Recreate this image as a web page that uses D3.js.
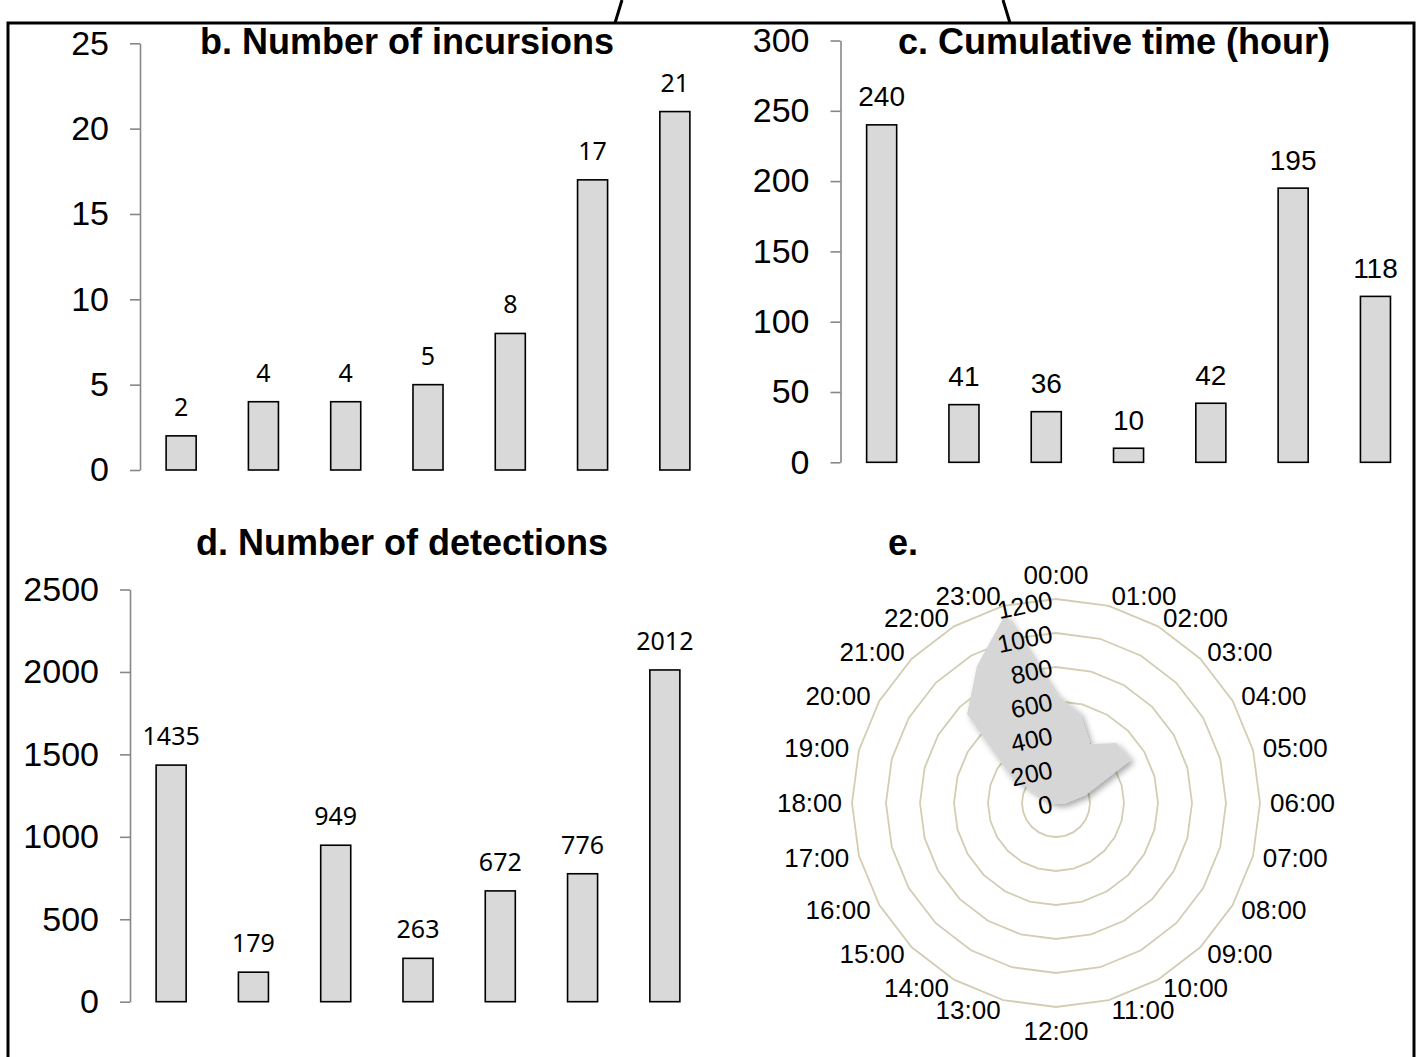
<!DOCTYPE html>
<html>
<head>
<meta charset="utf-8">
<script src="https://cdn.jsdelivr.net/npm/d3@7"></script>
<style>
  body { margin: 0; background: #fff; }
  svg { display: block; }
  text { font-family: "Liberation Sans", Arial, sans-serif; fill: #000; }
  .axis path, .axis line { stroke: #878787; stroke-width: 1.6; }
  .bar { fill: #d9d9d9; stroke: #000; stroke-width: 1.6; }
  .title { font-weight: bold; font-size: 36px; }
  .ring { fill: none; stroke: #d3cdb3; stroke-width: 1.8; }
</style>
</head>
<body>
<script>
// seven groups, same order in panels b, c and d
var groups = [1, 2, 3, 4, 5, 6, 7];
var incursions = [2, 4, 4, 5, 8, 17, 21];
var cumTime = [240, 41, 36, 10, 42, 195, 118];
var detections = [1435, 179, 949, 263, 672, 776, 2012];

// panel e: detections per hour of day
var hours = ["00:00", "01:00", "02:00", "03:00", "04:00", "05:00", "06:00", "07:00",
             "08:00", "09:00", "10:00", "11:00", "12:00", "13:00", "14:00", "15:00",
             "16:00", "17:00", "18:00", "19:00", "20:00", "21:00", "22:00", "23:00"];
var hourly = [640, 545, 400, 500, 510, 180, 60, 20, 10, 5, 5, 5,
              5, 5, 5, 5, 5, 10, 20, 50, 300, 740, 930, 1150];
var radarTicks = [0, 200, 400, 600, 800, 1000, 1200];

var svg = d3.select("body").append("svg")
    .attr("width", 1418)
    .attr("height", 1057);

var defs = svg.append("defs");
defs.append("filter")
    .attr("id", "shadow")
    .attr("x", "-20%").attr("y", "-20%")
    .attr("width", "140%").attr("height", "140%")
  .append("feDropShadow")
    .attr("dx", 3).attr("dy", 3)
    .attr("stdDeviation", 3)
    .attr("flood-color", "#000")
    .attr("flood-opacity", 0.35);

// frame
svg.append("rect")
    .attr("x", 8).attr("y", 23)
    .attr("width", 1406).attr("height", 1060)
    .attr("fill", "none")
    .attr("stroke", "#000")
    .attr("stroke-width", 3);
svg.append("path")
    .attr("d", "M615,23L622,0M1003,0L1010,23")
    .attr("fill", "none")
    .attr("stroke", "#000")
    .attr("stroke-width", 3);

function barPanel(o) {
    var x = d3.scaleBand()
            .domain(groups)
            .range([o.left, o.right])
            .paddingInner(0.635)
            .paddingOuter(0.3175);
    var y = d3.scaleLinear()
            .domain([0, o.max])
            .range([o.bottom, o.top]);

    var axis = d3.axisLeft(y)
            .tickValues(d3.range(0, o.max + 1, o.step))
            .tickFormat(d3.format("d"))
            .tickSize(10)
            .tickSizeOuter(0)
            .tickPadding(21);

    var g = svg.append("g");

    var axisG = g.append("g")
            .attr("class", "axis")
            .attr("transform", "translate(" + o.left + ",0)")
            .call(axis);
    axisG.attr("font-family", null).attr("font-size", null);
    axisG.selectAll("text")
            .style("font-size", "34px");

    g.selectAll("rect.bar")
            .data(o.values)
            .enter()
            .append("rect")
            .attr("class", "bar")
            .attr("x", function (d, i) { return x(groups[i]); })
            .attr("width", x.bandwidth())
            .attr("y", function (d) { return y(d); })
            .attr("height", function (d) { return o.bottom - y(d); });

    g.selectAll("text.lab")
            .data(o.values)
            .enter()
            .append("text")
            .attr("class", "lab")
            .attr("text-anchor", "middle")
            .attr("x", function (d, i) { return x(groups[i]) + x.bandwidth() / 2; })
            .attr("y", function (d) { return y(d) - o.gap; })
            .style("font-family", o.labelFont)
            .style("font-size", o.labelSize + "px")
            .text(function (d) { return d; });

    g.append("text")
            .attr("class", "title")
            .attr("text-anchor", "middle")
            .attr("x", o.titleX)
            .attr("y", o.titleY)
            .text(o.title);
}

barPanel({values: incursions, left: 140, right: 716, top: 43.3, bottom: 470,
          max: 25, step: 5, gap: 20, labelFont: "'Noto Sans', sans-serif", labelSize: 25,
          title: "b. Number of incursions", titleX: 407, titleY: 54});

barPanel({values: cumTime, left: 840.5, right: 1416.6, top: 40.5, bottom: 462.3,
          max: 300, step: 50, gap: 18.5, labelFont: "'Liberation Sans', Arial, sans-serif", labelSize: 28,
          title: "c. Cumulative time (hour)", titleX: 1114, titleY: 54});

barPanel({values: detections, left: 130, right: 706, top: 589.5, bottom: 1001.7,
          max: 2500, step: 500, gap: 20, labelFont: "'Noto Sans', sans-serif", labelSize: 25,
          title: "d. Number of detections", titleX: 402, titleY: 555});

// radar panel
function radarPanel() {
    var cx = 1056, cy = 803;
    var r = d3.scaleLinear().domain([0, 1200]).range([0, 204]);
    var a = d3.scaleLinear().domain([0, hours.length]).range([0, 2 * Math.PI]);

    var g = svg.append("g")
            .attr("transform", "translate(" + cx + "," + cy + ")");

    var ring = d3.lineRadial()
            .angle(function (d, i) { return a(i); })
            .radius(function (d) { return r(d); })
            .curve(d3.curveLinearClosed);

    g.selectAll("path.ring")
            .data(radarTicks.slice(1))
            .enter()
            .append("path")
            .attr("class", "ring")
            .attr("d", function (t) { return ring(hours.map(function () { return t; })); });

    g.append("path")
            .attr("d", ring(hourly))
            .attr("fill", "#d6d6d6")
            .attr("filter", "url(#shadow)");

    g.selectAll("text.rt")
            .data(radarTicks)
            .enter()
            .append("text")
            .attr("class", "rt")
            .attr("text-anchor", "end")
            .attr("dominant-baseline", "central")
            .attr("transform", function (t) {
                return "translate(-4," + (-r(t)) + ") rotate(-12)";
            })
            .style("font-size", "25px")
            .text(function (t) { return t; });

    g.selectAll("text.hr")
            .data(hours)
            .enter()
            .append("text")
            .attr("class", "hr")
            .attr("dominant-baseline", "central")
            .style("font-size", "26px")
            .attr("text-anchor", function (d, i) {
                if (i === 0 || i === 12) return "middle";
                return i < 12 ? "start" : "end";
            })
            .attr("x", function (d, i) {
                var rr = (i === 0 || i === 12) ? 228 : 214;
                return rr * Math.sin(a(i));
            })
            .attr("y", function (d, i) {
                var rr = (i === 0 || i === 12) ? 228 : 214;
                return -rr * Math.cos(a(i));
            })
            .text(function (d) { return d; });

    svg.append("text")
            .attr("class", "title")
            .attr("text-anchor", "middle")
            .attr("x", 903)
            .attr("y", 555)
            .text("e.");
}

radarPanel();
</script>
</body>
</html>
